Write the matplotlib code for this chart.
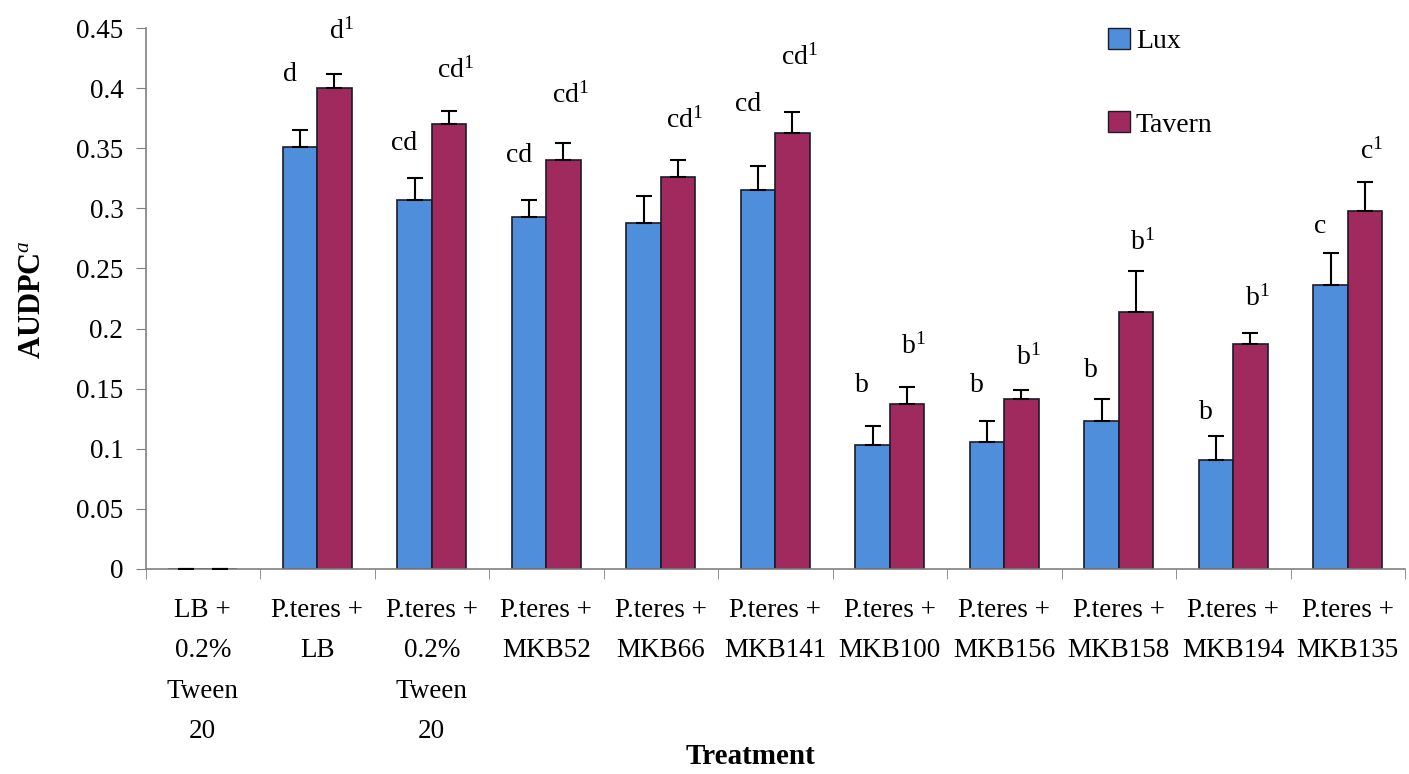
import numpy as np
import matplotlib
matplotlib.use("Agg")
import matplotlib.pyplot as plt
from matplotlib.patches import Patch

plt.rcParams['font.family'] = ['Liberation Serif', 'DejaVu Serif']
plt.rcParams['mathtext.fontset'] = 'custom'
plt.rcParams['mathtext.rm'] = 'Liberation Serif'
plt.rcParams['mathtext.it'] = 'Liberation Serif:italic'
plt.rcParams['mathtext.bf'] = 'Liberation Serif:bold'

# ---- data ----
categories = ["LB +\n0.2%\nTween\n20", "P.teres +\nLB", "P.teres +\n0.2%\nTween\n20",
              "P.teres +\nMKB52", "P.teres +\nMKB66", "P.teres +\nMKB141",
              "P.teres +\nMKB100", "P.teres +\nMKB156", "P.teres +\nMKB158",
              "P.teres +\nMKB194", "P.teres +\nMKB135"]
lux = [0.0, 0.351, 0.307, 0.293, 0.288, 0.315, 0.103, 0.106, 0.123, 0.091, 0.236]
lux_err = [0.0, 0.014, 0.018, 0.014, 0.022, 0.020, 0.016, 0.017, 0.018, 0.020, 0.027]
tavern = [0.0, 0.400, 0.370, 0.340, 0.326, 0.363, 0.137, 0.141, 0.214, 0.187, 0.298]
tavern_err = [0.0, 0.012, 0.011, 0.014, 0.014, 0.017, 0.014, 0.008, 0.034, 0.009, 0.024]
lux_letters = ["", "d", "cd", "cd", "", "cd", "b", "b", "b", "b", "c"]
lux_letter_y = [None, 0.411, 0.354, 0.344, None, 0.386, 0.153, 0.153, 0.165, 0.130, 0.285]
tavern_letters = ["", "d", "cd", "cd", "cd", "cd", "b", "b", "b", "b", "c"]
tavern_letter_y = [None, 0.447, 0.415, 0.394, 0.373, 0.426, 0.185, 0.176, 0.272, 0.225, 0.347]
yticks = [0, 0.05, 0.1, 0.15, 0.2, 0.25, 0.3, 0.35, 0.4, 0.45]
ytick_labels = ["0", "0.05", "0.1", "0.15", "0.2", "0.25", "0.3", "0.35", "0.4", "0.45"]

LUX_C = '#4F8EDB'
TAV_C = '#A02A5E'
EDGE = '#1b1b2a'
AX_C = '#808080'

W, H = 1409, 774
fig = plt.figure(figsize=(W / 100, H / 100), dpi=100)
ax = fig.add_axes([145.5 / W, 1 - 569 / H, (1405 - 145.5) / W, (569 - 28) / H])

x = np.arange(len(categories))
bw = 0.3
ax.bar(x - bw / 2, lux, bw, color=LUX_C, edgecolor=EDGE, linewidth=1.2, zorder=2)
ax.bar(x + bw / 2, tavern, bw, color=TAV_C, edgecolor=EDGE, linewidth=1.2, zorder=2)
ax.errorbar(x - bw / 2, lux, yerr=[np.zeros(len(lux)), lux_err], fmt='none',
            ecolor='black', elinewidth=1.5, capsize=6, capthick=1.5, zorder=3)
ax.errorbar(x + bw / 2, tavern, yerr=[np.zeros(len(tavern)), tavern_err], fmt='none',
            ecolor='black', elinewidth=1.5, capsize=6, capthick=1.5, zorder=3)

fs = 19.5
lfs = 20
for i in range(len(categories)):
    if lux_letters[i] and lux_letter_y[i] is not None:
        ax.text(i - 0.24, lux_letter_y[i], lux_letters[i], ha='center', va='center',
                fontsize=lfs, zorder=4)
    if tavern_letters[i] and tavern_letter_y[i] is not None:
        ax.text(i + 0.21, tavern_letter_y[i], tavern_letters[i] + r'$^{1}$',
                ha='center', va='center', fontsize=lfs, zorder=4)

ax.set_xlim(-0.5, len(categories) - 0.5)
ax.set_ylim(0, 0.45)
ax.set_yticks(yticks)
ax.set_yticklabels(ytick_labels, fontsize=fs)
ax.set_xticks(x)
ax.set_xticklabels(categories, fontsize=fs, linespacing=1.8, va='top')
ax.set_xticks(np.arange(len(categories) + 1) - 0.5, minor=True)
ax.tick_params(axis='x', which='major', length=0, pad=21)
ax.tick_params(axis='x', which='minor', length=7, color=AX_C, direction='out')
ax.tick_params(axis='y', length=7, color=AX_C, direction='out', pad=9)

for s in ['top', 'right']:
    ax.spines[s].set_visible(False)
for s in ['left', 'bottom']:
    ax.spines[s].set_color(AX_C)
    ax.spines[s].set_linewidth(1.2)

fig.text(750 / W, 1 - 757 / H, 'Treatment', ha='center', va='center',
         fontsize=21, fontweight='bold')
fig.text(33 / W, 1 - 300 / H, r'AUDPC$^{\mathit{a}}$', ha='center', va='center',
         rotation=90, fontsize=22, fontweight='bold')

handles = [Patch(facecolor=LUX_C, edgecolor=EDGE, label='Lux'),
           Patch(facecolor=TAV_C, edgecolor=EDGE, label='Tavern')]
fig.legend(handles=handles, loc='upper left', bbox_to_anchor=(1108 / W, 1 - 28 / H),
           bbox_transform=fig.transFigure, frameon=False, fontsize=20,
           handlelength=0.8, handleheight=0.8, handletextpad=0.2,
           labelspacing=2.05, borderpad=0, borderaxespad=0)

fig.savefig('out.png', dpi=100)
